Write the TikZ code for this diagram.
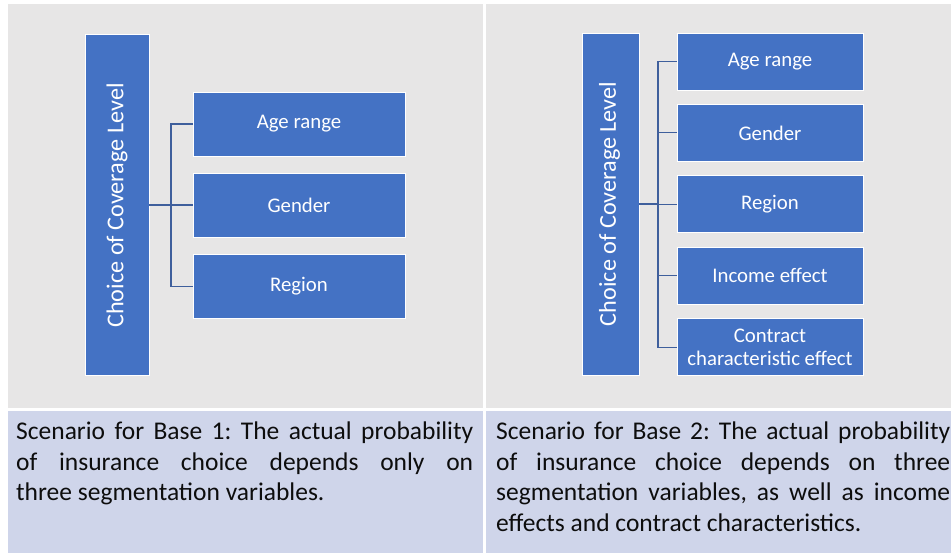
\documentclass[tikz,border=0pt]{standalone}
\usepackage{fontspec}
\setmainfont{Carlito}
\frenchspacing
\definecolor{panelgrey}{HTML}{E7E6E6}
\definecolor{panelblue}{HTML}{CFD5EA}
\definecolor{boxblue}{HTML}{4472C4}
\definecolor{linkblue}{HTML}{3F5F9C}
\definecolor{bodytext}{HTML}{0D0D0D}
\tikzset{
  panel/.style={fill=#1, draw=none},
  blockbox/.style={draw=white, line width=0.8pt, fill=boxblue, inner sep=0pt,
    minimum width=#1, text=white, align=center},
  leftchild/.style={blockbox=212pt, minimum height=64pt, font=\fontsize{20.8}{23}\selectfont},
  rightchild/.style={blockbox=186pt, minimum height=57pt, font=\fontsize{20.8}{23}\selectfont},
  rootlabel/.style={rotate=90, text=white, inner sep=0pt, font=\fontsize{24.2}{26}\selectfont},
  conn/.style={draw=linkblue, line width=1.1pt},
  caption/.style={anchor=north west, inner sep=0pt, text width=#1, align=justify,
    text=bodytext, font=\fontsize{25.5}{30.6}\selectfont}
}
\begin{document}
\begin{tikzpicture}[x=1pt, y=-1pt]
\useasboundingbox (0,0) rectangle (951,553);
\clip (0,0) rectangle (951,553);

% background panels
\fill[panel=panelgrey] (8,4) rectangle (483,408);
\fill[panel=panelgrey] (486,4) rectangle (951,408);
\fill[panel=panelblue] (8,411) rectangle (483,553);
\fill[panel=panelblue] (486,411) rectangle (951,553);

% ---- Base 1 hierarchy
\node[blockbox=64pt, minimum height=341pt] (rootA) at (117,204.5) {};
\node[rootlabel] (rootAlabel) at (117,205.5) {Choice of Coverage Level};
\node[leftchild] (ageA) at (299,124) {Age range};
\node[leftchild] (genderA) at (299,205) {Gender};
\node[leftchild] (regionA) at (299,286.5) {Region};

\coordinate (busA) at (171,205);
\draw[conn] (rootA.east |- genderA.west) -- (genderA.west);
\draw[conn] (ageA.west) -- (ageA.west -| busA) -- (regionA.west -| busA) -- (regionA.west);

% ---- Base 2 hierarchy
\node[blockbox=57pt, minimum height=342pt] (rootB) at (610.5,204) {};
\node[rootlabel] (rootBlabel) at (609.5,204) {Choice of Coverage Level};
\node[rightchild] (ageB) at (770,61.5) {Age range};
\node[rightchild] (genderB) at (770,132.9) {Gender};
\node[rightchild] (regionB) at (770,204.3) {Region};
\node[rightchild] (incomeB) at (770,275.7) {Income effect};
\node[rightchild] (contractB) at (770,347.1) {Contract\\characteristic effect};

\coordinate (busB) at (658,204);
\draw[conn, line width=1.6pt] (rootB.east |- regionB.west) -- (regionB.west -| busB);
\draw[conn] (regionB.west -| busB) -- (regionB.west);
\draw[conn] (ageB.west) -- (ageB.west -| busB) -- (contractB.west -| busB) -- (contractB.west);
\draw[conn] (genderB.west -| busB) -- (genderB.west);
\draw[conn] (incomeB.west -| busB) -- (incomeB.west);

% ---- scenario captions
\node[caption=457pt] (capA) at (16,421.5) {Scenario for Base 1: The actual probability\linebreak
  of insurance choice depends only on\linebreak three segmentation variables.};
\node[caption=454pt] (capB) at (496,421.5) {Scenario for Base 2: The actual probability\linebreak
  of insurance choice depends on three\linebreak segmentation variables, as well as income\linebreak
  effects and contract characteristics.};
\end{tikzpicture}
\end{document}
